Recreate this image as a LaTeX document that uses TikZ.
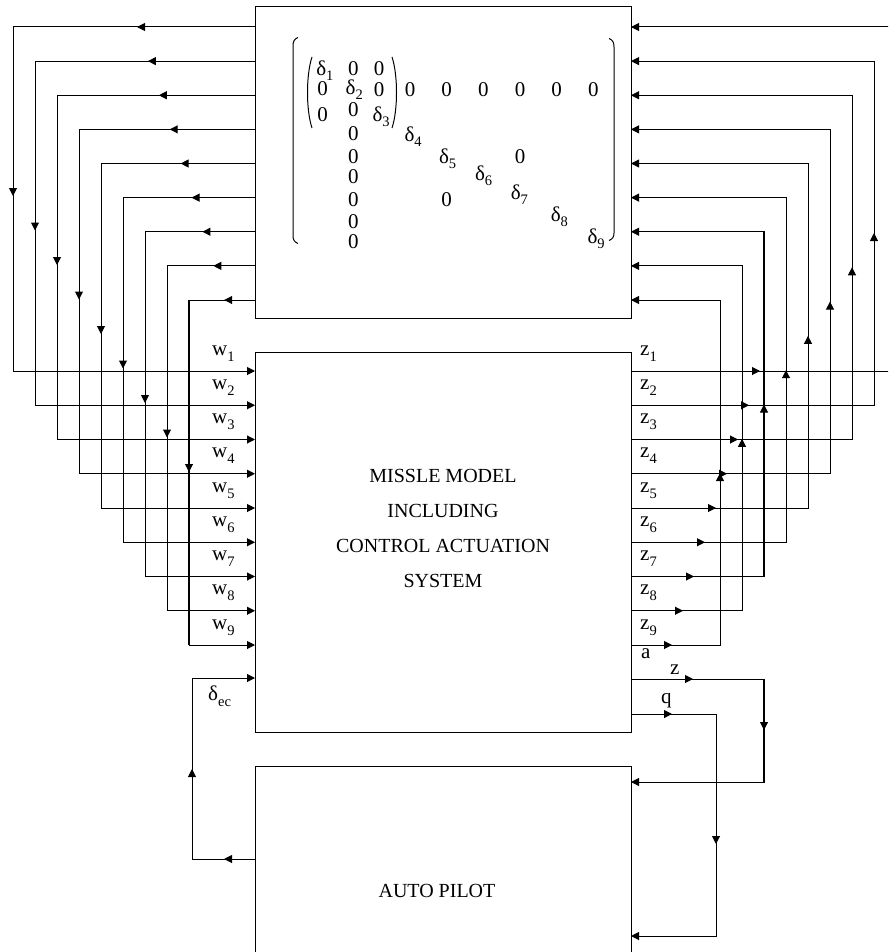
\documentclass[tikz,border=0pt]{standalone}
\usepackage{fontspec}
\setmainfont{Liberation Serif}
\usetikzlibrary{arrows.meta}
\newcommand\sbs[2][5pt]{\raisebox{-#1}{\fontsize{14.5}{14.5}\selectfont #2}}
\newcommand\marr[4]{\draw[line,tip] ({#1-4*(#3)},{#2-4*(#4)}) -- ({#1+4*(#3)},{#2+4*(#4)});}
\begin{document}
\begin{tikzpicture}[x=1pt,y=-1pt,
  line/.style={line width=1pt},
  thk/.style={line width=2.4pt},
  tip/.style={-{Triangle[length=8pt,width=8pt]}},
  box/.style={draw,line width=1pt,inner sep=0pt,outer sep=0pt,anchor=north west},
  txt/.style={font=\fontsize{20}{35}\selectfont,inner sep=0pt,align=center},
  ent/.style={font=\fontsize{21}{21}\selectfont,inner sep=0pt},
  lbl/.style={font=\fontsize{21}{21}\selectfont,inner sep=0pt,anchor=base west},
  ]
\useasboundingbox (0,0) rectangle (888,952);
\clip (0,0) rectangle (888,952);
% boxes
\node[box,minimum width=376pt,minimum height=311pt] (mat) at (255,7) {};
\node[box,minimum width=376pt,minimum height=380pt] (main) at (255,352) {};
\node[box,minimum width=376pt,minimum height=260pt] (ap) at (255,766) {};
\node[txt] (mtxt) at (443,528.5) {MISSLE MODEL\\INCLUDING\\CONTROL ACTUATION\\SYSTEM};
\node[txt] (aptxt) at (437,891) {AUTO PILOT};
% matrix brackets
\draw[line] (298,37.5) .. controls (294.5,39) and (293,41) .. (293,46) -- (293,236) .. controls (293,240) and (294.5,242) .. (298,243.5);
\draw[line] (609,38.5) .. controls (612.5,40) and (614,42) .. (614,47) -- (614,233) .. controls (614,237) and (612.5,239) .. (609,240.5);
\draw[line] (312,57) .. controls (306,75) and (306,110) .. (312,128);
\draw[line] (392,57) .. controls (398,75) and (398,110) .. (392,128);
% matrix entries: deltas (glyph centre given)
\foreach \k/\cx/\cy in {1/321.3/68.7,2/350.7/88,3/377.5/115,4/409.5/135,5/444/156.7,6/480/174,7/515.8/193,8/555.8/215,9/592.5/236.7}{
  \node[lbl] (d\k) at ({\cx-5.2},{\cy+6.8}) {δ\sbs{\k}};
}
\foreach \k/\cx/\cy in {a/353.3/69,b/379/69,c/322.7/88.3,d/379/90,e/410/90,f/446.7/90,g/483.3/90,h/520/90,i/556.7/90,j/593.3/90,k/322.7/115,l/353.3/109.3,m/353.3/133.3,n/353.3/156.7,o/353.3/176.7,p/353.3/200,q/353.3/221.7,r/353.3/241.7,s/520/156.7,t/446.7/200}{
  \node[ent] (z\k) at (\cx,\cy) {0};
}
% feedback rows
\foreach \i in {1,...,9}{
  \pgfmathsetmacro\yt{27+34.125*(\i-1)}
  \pgfmathsetmacro\yw{371+34.25*(\i-1)}
  \pgfmathsetmacro\xa{13+22*(\i-1)}
  \pgfmathsetmacro\xb{\i==1 ? 900 : 874-22*(\i-2)}
  \coordinate (mL\i) at (255,\yt);
  \coordinate (mR\i) at (631,\yt);
  \coordinate (wI\i) at (255,\yw);
  \coordinate (zO\i) at (631,\yw);
  \draw[line,tip] (mL\i) -- (\xa,\yt) -- (\xa,\yw) -- (wI\i);
  \draw[line,tip] (zO\i) -- (\xb,\yw) -- (\xb,\yt) -- (mR\i);
  % mid-line arrowheads
  \marr{141+10.9*(\i-1)}{\yt}{-1}{0}
  \marr{\xa}{192+34.5*(\i-1)}{0}{1}
  \marr{756-11*(\i-1)}{\yw}{1}{0}
  \ifnum\i>1 \marr{\xb}{237+34.3*(\i-2)}{0}{-1}\fi
  \node[lbl] (wl\i) at (212,\yw-16) {w\sbs[6pt]{\i}};
  \node[lbl] (zl\i) at (640,\yw-16) {z\sbs[6pt]{\i}};
}
\draw[thk] (189,299.9) -- (189,645);
\draw[thk] (764,231.75) -- (764,576.5);
% outputs a, z, q and delta_ec
\coordinate (zOut) at (631,679);
\coordinate (zIn) at (631,782);
\coordinate (qOut) at (631,714);
\coordinate (qIn) at (631,936);
\coordinate (dOut) at (255,859);
\coordinate (dIn) at (255,678);
\draw[line,tip] (zOut) -- (764,679) -- (764,782) -- (zIn);
\draw[thk] (764,679) -- (764,782);
\draw[line,tip] (qOut) -- (716,714) -- (716,936) -- (qIn);
\draw[line,tip] (dOut) -- (192,859) -- (192,678) -- (dIn);
\marr{689}{679}{1}{0}
\marr{764}{726}{0}{1}
\marr{668}{714}{1}{0}
\marr{716}{840}{0}{1}
\marr{228}{859}{-1}{0}
\marr{192}{773}{0}{-1}
\node[lbl] (la) at (641,658) {a};
\node[lbl] (lz) at (670,674) {z};
\node[lbl] (lq) at (661,703) {q};
\node[lbl] (ldec) at (208,700) {δ\sbs[6pt]{ec}};
\end{tikzpicture}
\end{document}
